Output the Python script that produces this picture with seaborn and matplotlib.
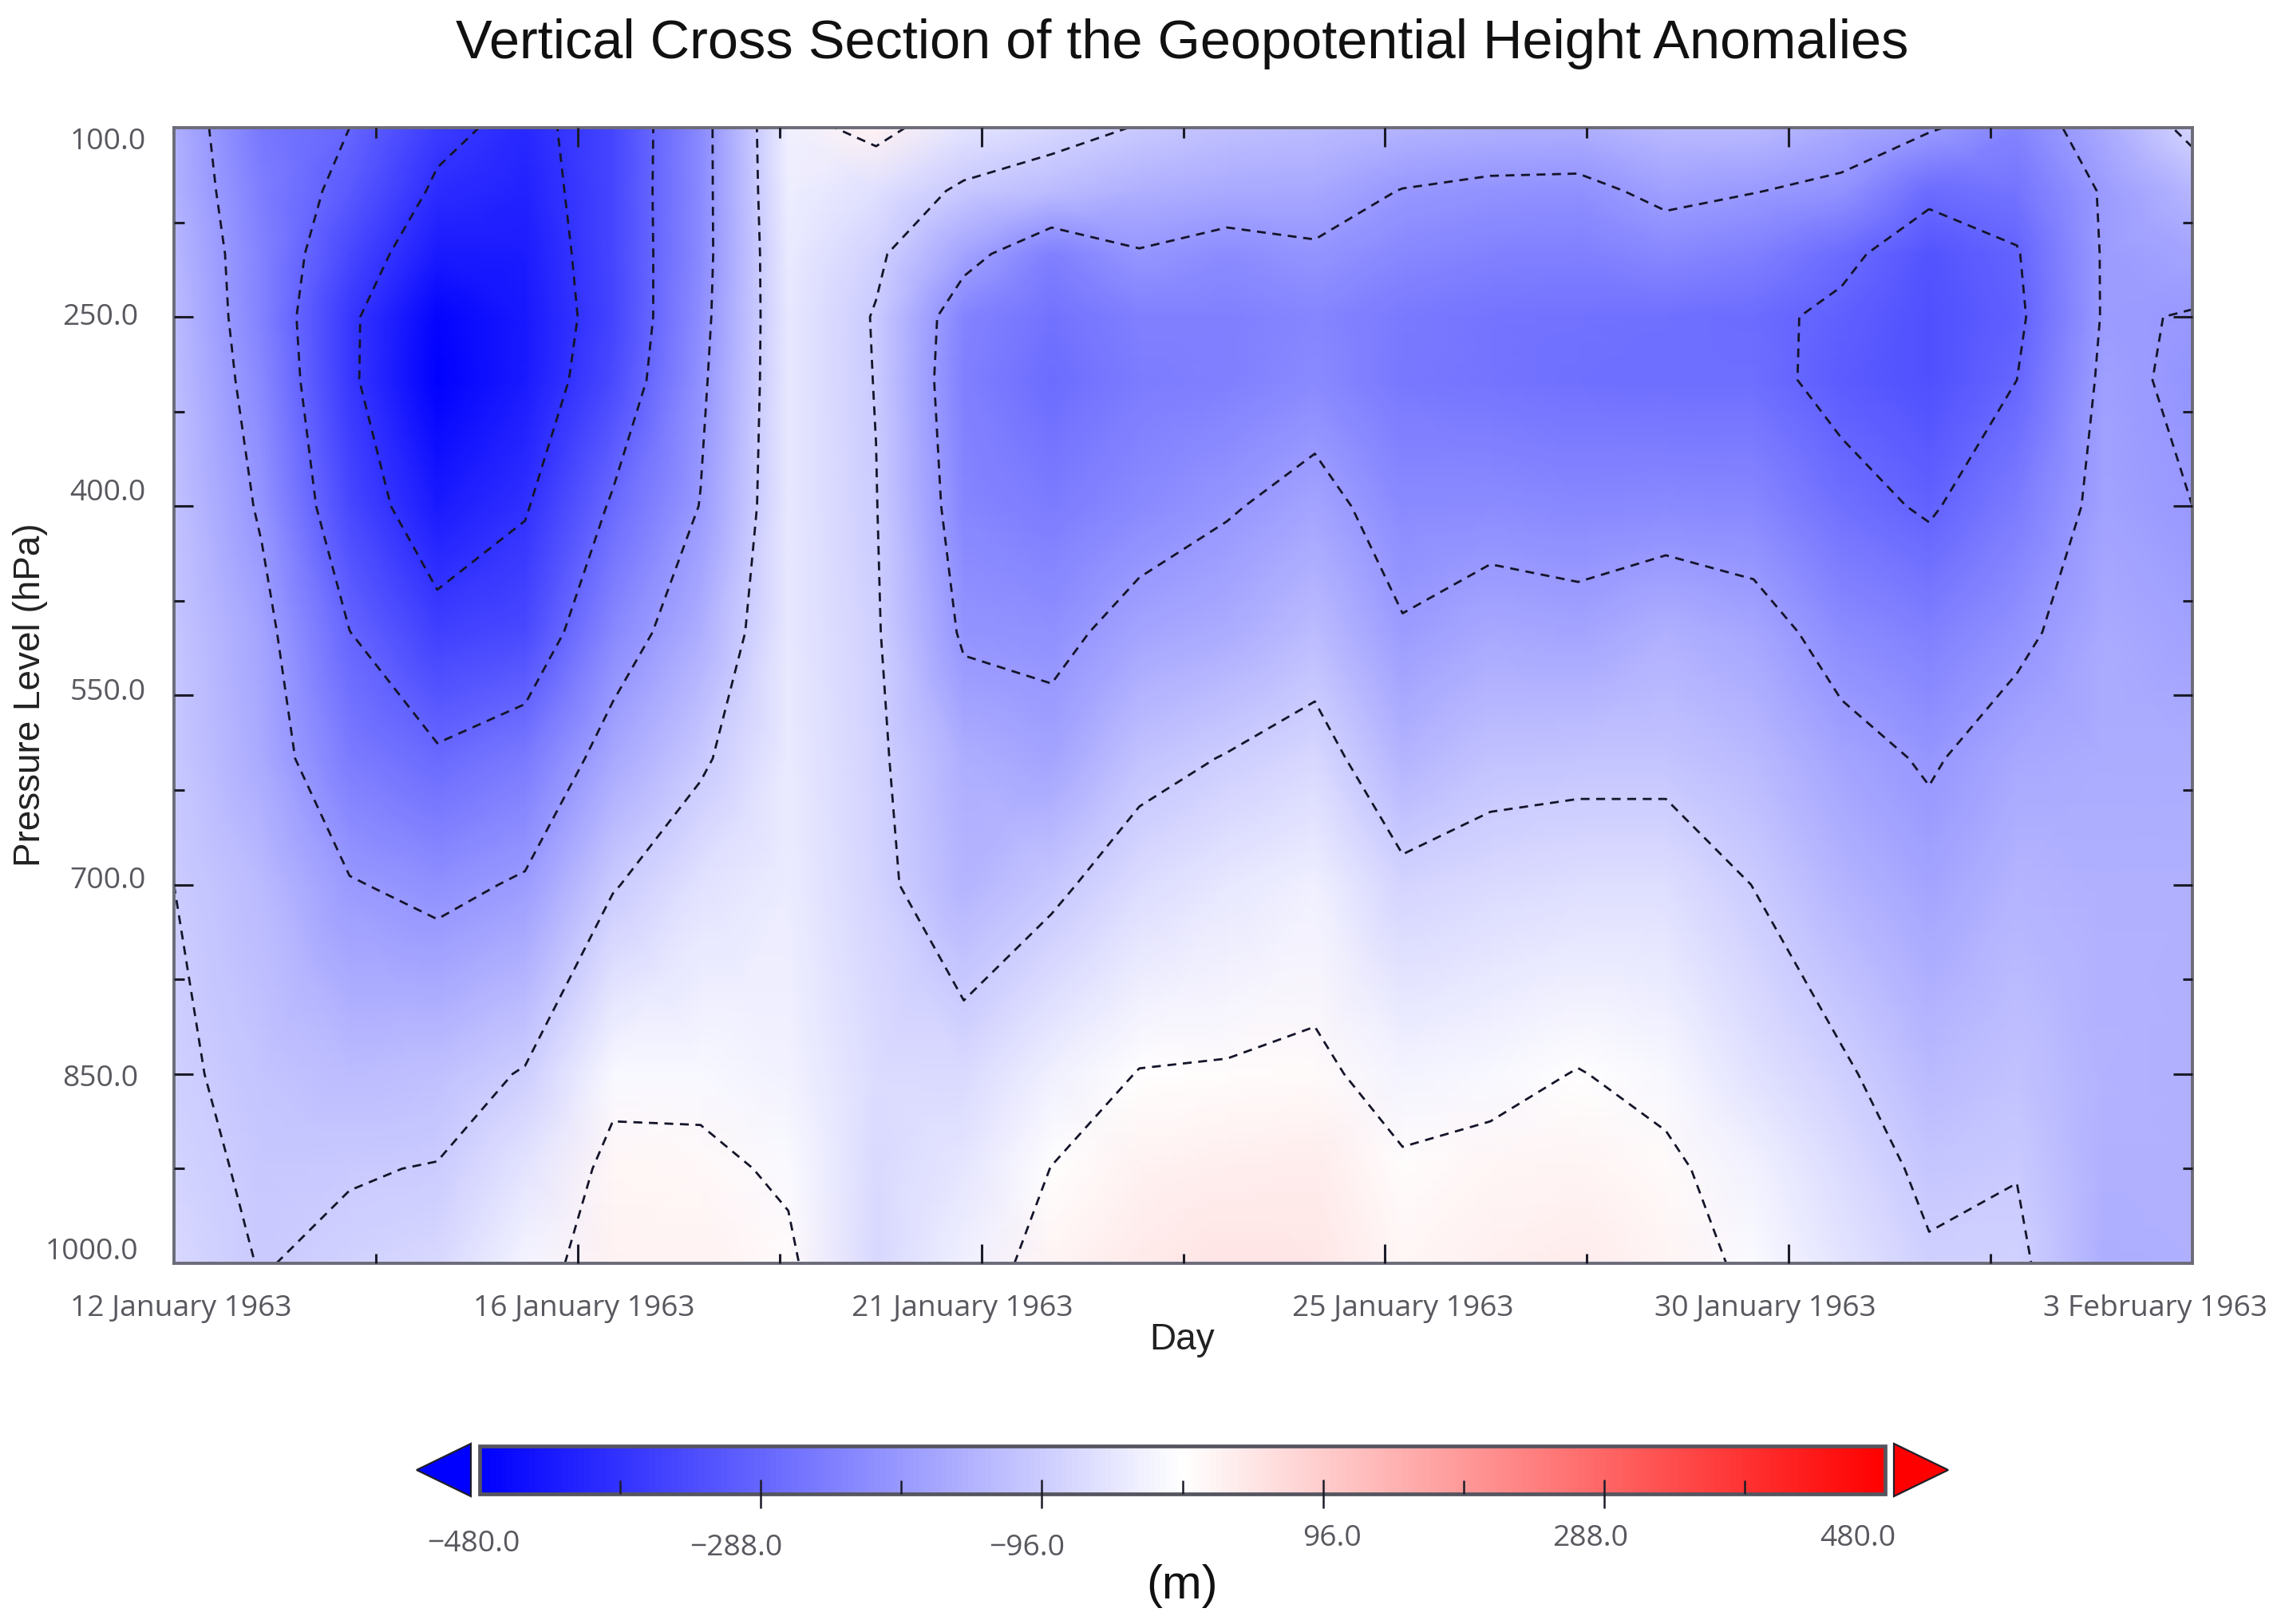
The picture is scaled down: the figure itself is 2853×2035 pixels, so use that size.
import numpy as np
import matplotlib
matplotlib.use('Agg')
import matplotlib.pyplot as plt
from matplotlib.patches import Polygon
import seaborn as sns

# pressure levels of the cross section (hPa)
levels_hpa = [100, 150, 200, 250, 300, 400, 500, 600, 700, 850, 925, 1000]

# height anomaly (m) per time step, one value per pressure level
step_00 = [-150, -145, -135, -125, -122, -115, -108, -102, -96, -88, -80, -72]
step_01 = [-255, -243, -233, -233, -222, -200, -172, -160, -130, -111, -105, -98]
step_02 = [-288, -308, -345, -372, -372, -342, -287, -244, -188, -125, -99, -86]
step_03 = [-365, -395, -430, -470, -480, -431, -360, -278, -208, -120, -94, -72]
step_04 = [-405, -415, -425, -432, -428, -390, -338, -250, -185, -92, -50, -20]
step_05 = [-348, -346, -348, -352, -340, -280, -225, -165, -100, -15, 15, 24]
step_06 = [-218, -218, -218, -213, -205, -190, -152, -105, -55, -14, 12, 25]
step_07 = [-28, -32, -38, -42, -44, -44, -42, -40, -36, -26, -8, 10]
step_08 = [25, -60, -85, -100, -98, -94, -90, -86, -80, -65, -70, -72]
step_09 = [-50, -105, -170, -232, -240, -226, -201, -152, -140, -68, -48, -30]
step_10 = [-75, -125, -240, -265, -275, -245, -207, -170, -108, -30, 1, 22]
step_11 = [-99, -150, -196, -240, -245, -218, -172, -115, -65, 2, 25, 38]
step_12 = [-120, -160, -215, -240, -240, -197, -155, -93, -45, 4, 32, 50]
step_13 = [-125, -165, -200, -228, -220, -172, -125, -72, -30, 10, 35, 48]
step_14 = [-140, -194, -225, -250, -255, -220, -187, -140, -82, -20, 6, 15]
step_15 = [-150, -205, -235, -260, -262, -215, -165, -115, -70, -15, 15, 28]
step_16 = [-152, -207, -240, -265, -268, -222, -172, -112, -62, 2, 22, 34]
step_17 = [-130, -178, -222, -268, -272, -220, -148, -112, -62, -15, 10, 22]
step_18 = [-130, -190, -240, -275, -271, -225, -168, -130, -97, -55, -25, -10]
step_19 = [-160, -205, -275, -300, -305, -268, -215, -172, -140, -88, -65, -50]
step_20 = [-185, -275, -320, -330, -330, -295, -240, -198, -170, -130, -108, -90]
step_21 = [-229, -262, -292, -300, -288, -245, -205, -165, -140, -115, -98, -85]
step_22 = [-158, -185, -186, -186, -180, -173, -160, -155, -150, -145, -148, -152]
step_23 = [-78, -136, -170, -195, -202, -192, -175, -155, -150, -150, -150, -150]

contour_levels = [-384, -288, -192, -96, 0]
date_labels = ['12 January 1963', '16 January 1963', '21 January 1963',
               '25 January 1963', '30 January 1963', '3 February 1963']
pressure_labels = ['100.0', '250.0', '400.0', '550.0', '700.0', '850.0', '1000.0']
bar_labels = ['\u2212480.0', '\u2212288.0', '\u221296.0', '96.0', '288.0', '480.0']

W, H = 2853, 2035
TICK_FONT = 'Open Sans'
HEAD_FONT = 'Liberation Sans'
GREY = '#58585f'
FRAME = '#6c6c78'
TICK = '#1c1c2a'

sns.set_theme(style='white')
cmap = sns.blend_palette(['#0000ff', '#ffffff', '#ff0000'], n_colors=256, as_cmap=True)

fig = plt.figure(figsize=(W / 100, H / 100), dpi=100, facecolor='white')


def pixel_box(x0, y0, x1, y1):
    return [x0 / W, 1 - y1 / H, (x1 - x0) / W, (y1 - y0) / H]


def pixel_text(x, y, s, **kw):
    return fig.text(x / W, 1 - y / H, s, **kw)


# main cross section
ax = fig.add_axes(pixel_box(218, 160, 2747, 1583))
steps = np.arange(24)
grid = np.column_stack([step_00, step_01, step_02, step_03, step_04, step_05,
                        step_06, step_07, step_08, step_09, step_10, step_11,
                        step_12, step_13, step_14, step_15, step_16, step_17,
                        step_18, step_19, step_20, step_21, step_22, step_23])
mesh = ax.pcolormesh(steps, levels_hpa, grid, shading='gouraud', cmap=cmap, vmin=-480, vmax=480)
ax.contour(steps, levels_hpa, grid, levels=contour_levels, colors='#14142a',
           linewidths=2.0, linestyles=[(0, (4.0, 3.0))])
ax.set_xlim(0, 23)
ax.set_ylim(1000, 100)

ax.set_axisbelow(False)  # seaborn's white style puts ticks under the mesh
ax.set_xticks(np.arange(4.6, 23, 4.6))  # no tick on the frame corners
ax.set_xticks(np.arange(2.3, 23, 4.6), minor=True)
ax.set_yticks(np.arange(250, 1000, 150))
ax.set_yticks(np.arange(175, 1000, 150), minor=True)
ax.set_xticklabels([])
ax.set_yticklabels([])
ax.tick_params(which='major', direction='in', length=17, width=2.2, color=TICK,
               top=True, bottom=True, left=True, right=True)
ax.tick_params(which='minor', direction='in', length=9, width=2.2, color=TICK,
               top=True, bottom=True, left=True, right=True)
for side in ax.spines.values():
    side.set_color(FRAME)
    side.set_linewidth(2.8)

# tick labels sit a little off the ticks in the original, so place them by hand
y_label_pos = [(183, 178), (173, 398), (183, 618), (183, 868), (183, 1104), (173, 1352), (173, 1569)]
for (x, y), s in zip(y_label_pos, pressure_labels):
    pixel_text(x, y, s, ha='right', va='center', fontsize=26.8, color=GREY, family=TICK_FONT)

x_label_pos = [227, 732, 1206, 1758, 2212, 2701]
for x, s in zip(x_label_pos, date_labels):
    pixel_text(x, 1640, s, ha='center', va='center', fontsize=26.8, color=GREY, family=TICK_FONT)

pixel_text(1481, 55, 'Vertical Cross Section of the Geopotential Height Anomalies',
           ha='center', va='center', fontsize=49.3, color='#111111', family=HEAD_FONT)
pixel_text(1481, 1679, 'Day', ha='center', va='center', fontsize=33, color='#222222', family=HEAD_FONT)
pixel_text(38, 871, 'Pressure Level (hPa)', ha='center', va='center', rotation=90,
           fontsize=33, color='#222222', family=HEAD_FONT)
pixel_text(1481, 1987, '(m)', ha='center', va='center', fontsize=43, color='#111111', family=HEAD_FONT)

# colour bar with detached arrows
cax = fig.add_axes(pixel_box(601, 1812, 2362, 1872))
cb = fig.colorbar(mesh, cax=cax, orientation='horizontal')
cb.outline.set_edgecolor('#55555f')
cb.outline.set_linewidth(3.4)
cb.set_ticks([-288, -96, 96, 288])
cb.set_ticks([-384, -192, 0, 192, 384], minor=True)
cb.set_ticklabels([])
cax.set_axisbelow(False)
cax.tick_params(which='major', direction='inout', length=26, width=1.8, color=TICK)
cax.tick_params(which='minor', direction='in', length=12, width=1.8, color=TICK)

gap = 11 / (2362 - 601)
tip = 79 / (2362 - 601)
for base, point, col in [(-gap, -tip, cmap(0.0)), (1 + gap, 1 + tip, cmap(1.0))]:
    cax.add_patch(Polygon([(base, -0.05), (base, 1.05), (point, 0.5)], closed=True,
                          transform=cax.transAxes, clip_on=False, facecolor=col,
                          edgecolor='#20202a', linewidth=1.6))

bar_label_pos = [(593, 1935), (922, 1940), (1287, 1940), (1669, 1928), (1993, 1928), (2328, 1928)]
for (x, y), s in zip(bar_label_pos, bar_labels):
    pixel_text(x, y, s, ha='center', va='center', fontsize=26.8, color=GREY, family=TICK_FONT)

fig.savefig('out.png', dpi=100)
